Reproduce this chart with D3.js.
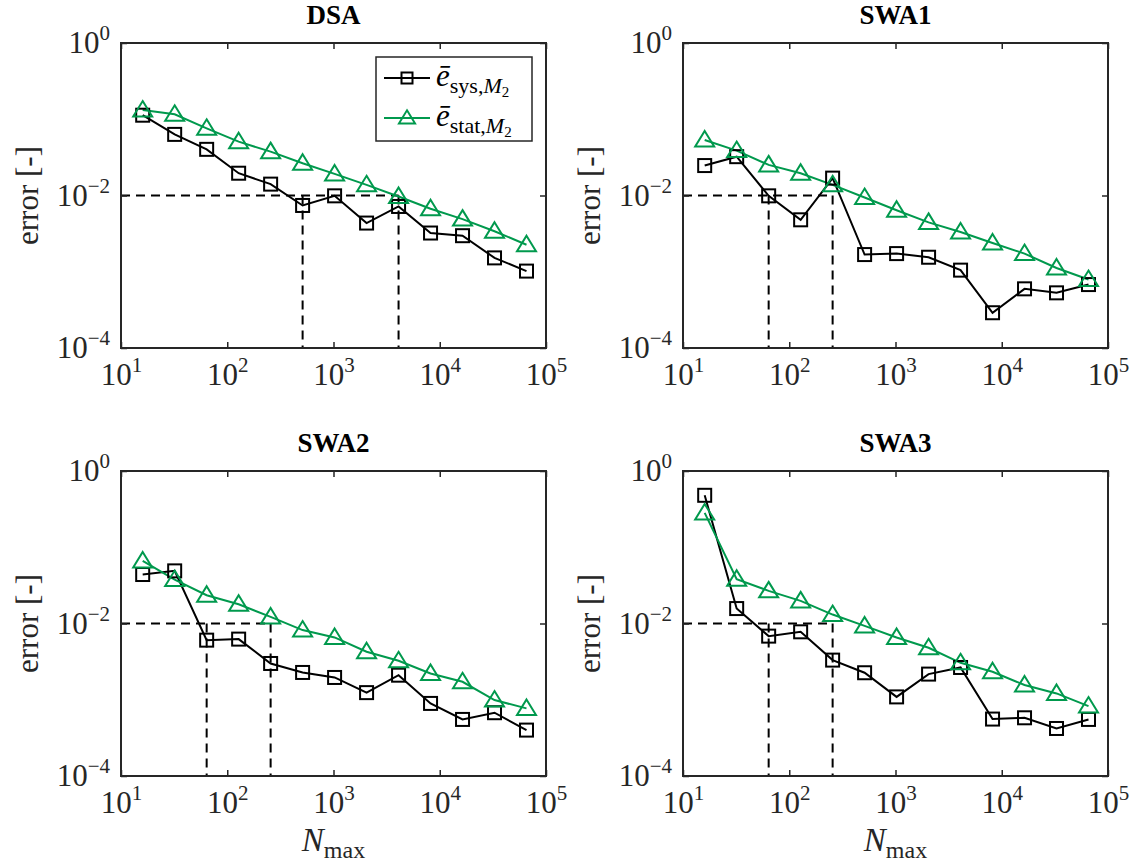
<!DOCTYPE html>
<html>
<head>
<meta charset="utf-8">
<script src="https://cdn.jsdelivr.net/npm/d3@7"></script>
<style>
body { margin: 0; background: #fff; }
svg text { font-family: "Liberation Serif", "DejaVu Serif", serif !important; }
</style>
</head>
<body>
<div id="chart"></div>
<script>
// sample counts on the x axis
const nMax = [16, 32, 64, 128, 256, 512, 1024, 2048, 4096, 8192, 16384, 32768, 65536]
const titles = ["DSA", "SWA1", "SWA2", "SWA3"]

// systematic error (black squares)
const sysDSA = [0.113, 0.0633, 0.0403, 0.0196, 0.0141, 0.0074, 0.0099, 0.00435, 0.00718, 0.00322, 0.00297, 0.00152, 0.00102]
const sysSWA1 = [0.0247, 0.0323, 0.0099, 0.0048, 0.0169, 0.00168, 0.00173, 0.00155, 0.00105, 0.00029, 0.000597, 0.000529, 0.000679]
const sysSWA2 = [0.0439, 0.049, 0.00605, 0.00624, 0.00299, 0.00228, 0.00196, 0.00124, 0.0021, 0.000895, 0.000552, 0.000676, 0.0004]
const sysSWA3 = [0.48, 0.0157, 0.00683, 0.00778, 0.00331, 0.00226, 0.00109, 0.00217, 0.00265, 0.000558, 0.00058, 0.00042, 0.000552]

// statistical error (green triangles)
const statDSA = [0.132, 0.116, 0.076, 0.0508, 0.0376, 0.0265, 0.0192, 0.0138, 0.0097, 0.0067, 0.0049, 0.0034, 0.00226]
const statSWA1 = [0.0534, 0.0388, 0.0252, 0.0196, 0.0138, 0.0094, 0.0064, 0.00444, 0.00332, 0.00238, 0.00173, 0.00112, 0.00079]
const statSWA2 = [0.0662, 0.0377, 0.0235, 0.0179, 0.0122, 0.0082, 0.00656, 0.00426, 0.00324, 0.00221, 0.00172, 0.00099, 0.00077]
const statSWA3 = [0.282, 0.0381, 0.0268, 0.0198, 0.0131, 0.0093, 0.00656, 0.0048, 0.00305, 0.00233, 0.00156, 0.00121, 0.000826]

// where the dashed guide lines drop down
const dashDSA = [512, 4096]
const dashSWA1 = [64, 256]
const dashSWA2 = [64, 256]
const dashSWA3 = [64, 256]
const target = 1e-2

const xTicks = [1e1, 1e2, 1e3, 1e4, 1e5]
const xExp = ["1", "2", "3", "4", "5"]
const yTicks = [1, 1e-2, 1e-4]
const yExp = ["0", "\u22122", "\u22124"]

const panels = [
    { title: titles[0], sys: sysDSA, stat: statDSA, dash: dashDSA },
    { title: titles[1], sys: sysSWA1, stat: statSWA1, dash: dashSWA1 },
    { title: titles[2], sys: sysSWA2, stat: statSWA2, dash: dashSWA2 },
    { title: titles[3], sys: sysSWA3, stat: statSWA3, dash: dashSWA3 }
]

const green = "#00994d"
const axisColor = "#262626"
const serif = "'Liberation Serif', 'DejaVu Serif', serif"
let pw = 425, ph = 305
let lefts = [121, 683, 121, 683]
let tops = [43, 43, 471, 471]
let ylabX = [28, 590]

const svg = d3.select("#chart").append("svg")
    .attr("width", 1138)
    .attr("height", 867)

const x = d3.scaleLog().domain([10, 1e5]).range([0, pw])
const y = d3.scaleLog().domain([1e-4, 1]).range([ph, 0])

const line = d3.line()
    .x((d, i) => x(nMax[i]))
    .y(d => y(d))

const tri = "M0,-9L9.5,6.5L-9.5,6.5Z"

// put "10" plus a superscript into a tick label
const powerLabel = (sel, exps) => {
    sel.each(function (d, i) {
        const t = d3.select(this).text("")
        t.append("tspan").text("10")
        t.append("tspan").attr("dy", -13).style("font-size", "21px").text(exps[i])
    })
}

panels.forEach((p, k) => {
    let g = svg.append("g")
        .attr("transform", "translate(" + lefts[k] + "," + tops[k] + ")")

    // dashed guides
    g.append("line")
        .attr("x1", 0).attr("x2", x(d3.max(p.dash)))
        .attr("y1", y(target)).attr("y2", y(target))
        .attr("stroke", "#000").attr("stroke-width", 2).attr("stroke-dasharray", "9,6")
    g.selectAll(".drop")
        .data(p.dash)
        .enter()
        .append("line")
        .attr("x1", d => x(d)).attr("x2", d => x(d))
        .attr("y1", y(target)).attr("y2", ph)
        .attr("stroke", "#000").attr("stroke-width", 2).attr("stroke-dasharray", "9,6")

    // series
    g.append("path")
        .attr("fill", "none").attr("stroke", "#000").attr("stroke-width", 2)
        .attr("d", line(p.sys))
    g.append("path")
        .attr("fill", "none").attr("stroke", green).attr("stroke-width", 2)
        .attr("d", line(p.stat))

    g.selectAll(".sq")
        .data(p.sys)
        .enter()
        .append("rect")
        .attr("x", (d, i) => x(nMax[i]) - 6.5)
        .attr("y", d => y(d) - 6.5)
        .attr("width", 13).attr("height", 13)
        .attr("fill", "none").attr("stroke", "#000").attr("stroke-width", 2)

    g.selectAll(".tri")
        .data(p.stat)
        .enter()
        .append("path")
        .attr("d", tri)
        .attr("transform", (d, i) => "translate(" + x(nMax[i]) + "," + y(d) + ")")
        .attr("fill", "none").attr("stroke", green).attr("stroke-width", 2)

    // axes with inward ticks on all four sides
    let xb = g.append("g")
        .attr("transform", "translate(0," + ph + ")")
        .call(d3.axisBottom(x).tickValues(xTicks).tickSizeInner(-6).tickSizeOuter(0))
    let xt = g.append("g")
        .call(d3.axisTop(x).tickValues(xTicks).tickSizeInner(-6).tickSizeOuter(0).tickFormat(""))
    let yl = g.append("g")
        .call(d3.axisLeft(y).tickValues(yTicks).tickSizeInner(-6).tickSizeOuter(0))
    let yr = g.append("g")
        .attr("transform", "translate(" + pw + ",0)")
        .call(d3.axisRight(y).tickValues(yTicks).tickSizeInner(-6).tickSizeOuter(0).tickFormat(""))

    ;[xb, xt, yl, yr].forEach(a => {
        a.attr("font-family", null).attr("font-size", null)
        a.select(".domain").remove()
        a.selectAll("line").attr("stroke", axisColor).attr("stroke-width", 1.5)
        a.selectAll("text").style("font-size", "31px").style("font-family", serif).attr("fill", axisColor)
    })
    xb.selectAll("text").attr("dy", 0).attr("y", 37).call(powerLabel, xExp)
    yl.selectAll("text").attr("dy", "0.32em").attr("x", -11).call(powerLabel, yExp)

    g.append("rect")
        .attr("width", pw).attr("height", ph)
        .attr("fill", "none").attr("stroke", axisColor).attr("stroke-width", 2)

    // title
    g.append("text")
        .attr("x", pw / 2).attr("y", -19)
        .attr("text-anchor", "middle")
        .style("font-family", serif).style("font-size", "27px").style("font-weight", "bold")
        .attr("fill", "#000")
        .text(p.title)

    // y label
    g.append("text")
        .attr("transform", "translate(" + (ylabX[k % 2] - lefts[k]) + "," + ph / 2 + ") rotate(-90)")
        .attr("text-anchor", "middle")
        .attr("dy", "0.32em")
        .style("font-family", serif).style("font-size", "31px")
        .attr("fill", axisColor)
        .text("error [-]")

    // x label on the bottom row
    if (k >= 2) {
        let lab = g.append("text")
            .attr("x", pw / 2).attr("y", ph + 75)
            .attr("text-anchor", "middle")
            .style("font-family", serif).style("font-size", "33px")
            .attr("fill", axisColor)
        lab.append("tspan").style("font-style", "italic").text("N")
        lab.append("tspan").attr("dy", 7).style("font-size", "24px").text("max")
    }

    // legend only in the first panel
    if (k === 0) {
        let lg = g.append("g").attr("transform", "translate(" + (376 - lefts[0]) + "," + (57 - tops[0]) + ")")
        lg.append("rect")
            .attr("width", 156).attr("height", 84)
            .attr("fill", "#fff").attr("stroke", axisColor).attr("stroke-width", 1.5)
        const entries = [
            { color: "#000", sub: "sys,", marker: "sq", yy: 21 },
            { color: green, sub: "stat,", marker: "tri", yy: 61 }
        ]
        entries.forEach(e => {
            lg.append("line")
                .attr("x1", 8).attr("x2", 54).attr("y1", e.yy).attr("y2", e.yy)
                .attr("stroke", e.color).attr("stroke-width", 2)
            if (e.marker === "sq") {
                lg.append("rect").attr("x", 31 - 5.5).attr("y", e.yy - 5.5)
                    .attr("width", 11).attr("height", 11)
                    .attr("fill", "none").attr("stroke", e.color).attr("stroke-width", 2)
            } else {
                lg.append("path").attr("d", tri)
                    .attr("transform", "translate(31," + e.yy + ") scale(0.85)")
                    .attr("fill", "none").attr("stroke", e.color).attr("stroke-width", 2.3)
            }
            let t = lg.append("text").attr("x", 60).attr("y", e.yy + 8)
                .style("font-family", serif).style("font-size", "31px").attr("fill", "#000")
            t.append("tspan").style("font-style", "italic").text("\u0113")
            t.append("tspan").attr("dy", 7).style("font-size", "22px").text(e.sub)
            t.append("tspan").style("font-size", "22px").style("font-style", "italic").text("M")
            t.append("tspan").attr("dy", 4).style("font-size", "15px").text("2")
        })
    }
})
</script>
</body>
</html>
